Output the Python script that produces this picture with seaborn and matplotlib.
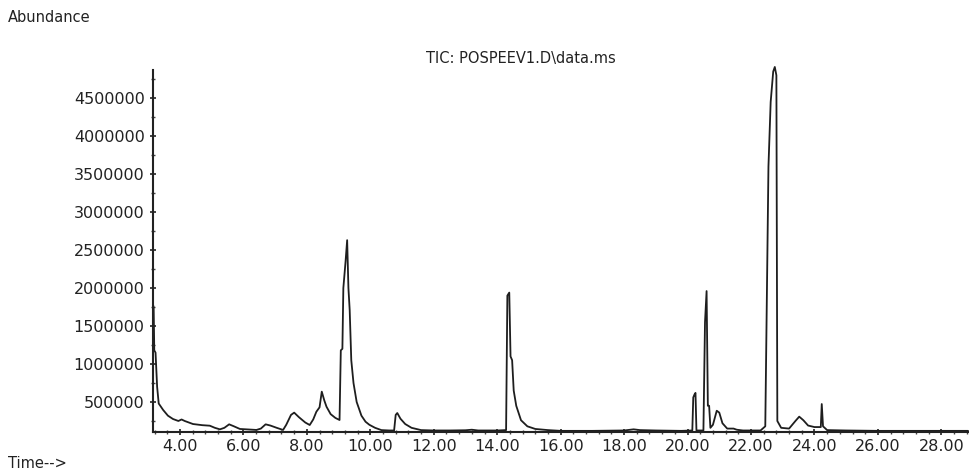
import matplotlib
matplotlib.use("Agg")
import matplotlib.pyplot as plt
import matplotlib.ticker as mticker
import seaborn as sns
import pandas as pd

# Retention time (min) and abundance
time_min = [
    3.15, 3.17, 3.19, 3.23, 3.28, 3.33, 3.47, 3.62, 3.78, 3.95, 4.05, 4.15, 4.41, 4.70, 4.94,
    5.10, 5.26, 5.40, 5.55, 5.70, 5.89, 6.10, 6.41, 6.55, 6.70, 6.85, 7.05, 7.25, 7.35, 7.50,
    7.60, 7.75, 7.95, 8.09, 8.20, 8.30, 8.40, 8.47, 8.55, 8.62, 8.75, 8.90, 9.03, 9.07, 9.12,
    9.15, 9.22, 9.27, 9.31, 9.35, 9.40, 9.47, 9.57, 9.72, 9.85, 9.97, 10.15, 10.35, 10.60, 10.75,
    10.80, 10.85, 10.95, 11.10, 11.30, 11.60, 12.00, 12.50, 13.00, 13.20, 13.40, 14.00, 14.28, 14.32, 14.38,
    14.42, 14.47, 14.52, 14.60, 14.75, 14.95, 15.20, 15.60, 16.00, 17.00, 18.00, 18.30, 18.50, 19.00, 19.80,
    20.15, 20.18, 20.22, 20.25, 20.28, 20.50, 20.55, 20.60, 20.64, 20.68, 20.72, 20.80, 20.92, 21.00, 21.10,
    21.25, 21.45, 21.55, 21.75, 22.30, 22.45, 22.50, 22.55, 22.62, 22.70, 22.75, 22.80, 22.83, 22.95, 23.20,
    23.40, 23.52, 23.65, 23.80, 24.00, 24.20, 24.23, 24.27, 24.40, 25.00, 26.00, 28.00, 28.84,
]
abundance = [
    1780000, 1750000, 1180000, 1150000, 700000, 480000, 395000, 320000, 276000, 250000, 270000, 250000, 210000, 195000, 188000,
    160000, 140000, 160000, 206000, 180000, 145000, 140000, 132000, 150000, 206000, 190000, 160000, 132000, 200000, 330000,
    360000, 300000, 230000, 197000, 270000, 372000, 430000, 636000, 520000, 437000, 340000, 290000, 263000, 1180000, 1200000,
    2000000, 2350000, 2630000, 2000000, 1710000, 1050000, 750000, 500000, 320000, 240000, 200000, 160000, 130000, 125000, 125000,
    330000, 355000, 280000, 210000, 160000, 130000, 125000, 125000, 128000, 135000, 125000, 125000, 130000, 1900000, 1940000,
    1100000, 1050000, 650000, 450000, 260000, 180000, 145000, 130000, 120000, 120000, 125000, 140000, 130000, 125000, 120000,
    125000, 560000, 600000, 620000, 125000, 125000, 1550000, 1960000, 450000, 450000, 160000, 200000, 385000, 360000, 220000,
    150000, 150000, 135000, 125000, 125000, 180000, 1880000, 3600000, 4450000, 4850000, 4910000, 4800000, 250000, 160000, 150000,
    250000, 307000, 260000, 190000, 170000, 170000, 473000, 180000, 130000, 125000, 120000, 120000, 120000,
]

x_ticks = [4, 6, 8, 10, 12, 14, 16, 18, 20, 22, 24, 26, 28]
y_ticks = [500000, 1000000, 1500000, 2000000, 2500000, 3000000, 3500000, 4000000, 4500000]

title_text = "TIC: POSPEEV1.D\\data.ms"
y_label = "Abundance"
x_label = "Time-->"

sns.set_style("white")
plt.rcParams["font.family"] = ["DejaVu Sans"]

W, H = 970, 474
fig = plt.figure(figsize=(W / 100, H / 100), dpi=100)
ax = fig.add_axes([153 / W, 1 - 432 / H, (968 - 153) / W, (432 - 70) / H])

df = pd.DataFrame({"t": time_min, "a": abundance})
sns.lineplot(data=df, x="t", y="a", sort=False, estimator=None, color="#1e1e1e", linewidth=1.3, ax=ax)
for ln in ax.get_lines():
    ln.set_clip_on(False)

ax.set_xlim(3.15, 28.84)
ax.set_ylim(105000, 4870000)
ax.set_xticks(x_ticks)
ax.set_yticks(y_ticks)
ax.xaxis.set_major_formatter(mticker.FuncFormatter(lambda v, p: f"{v:.2f}"))
ax.yaxis.set_major_formatter(mticker.FuncFormatter(lambda v, p: f"{v:.0f}"))
ax.xaxis.set_minor_locator(mticker.MultipleLocator(0.4))
ax.yaxis.set_minor_locator(mticker.MultipleLocator(250000))
ax.set_xlabel("")
ax.set_ylabel("")

for s in ["top", "right"]:
    ax.spines[s].set_visible(False)
for s in ["left", "bottom"]:
    ax.spines[s].set_color("#222222")
    ax.spines[s].set_linewidth(1.5)

ax.tick_params(axis="both", which="major", direction="inout", length=4, width=1.2,
               color="#222222", labelsize=11.5, labelcolor="#222222")
ax.tick_params(axis="x", which="major", pad=3)
ax.tick_params(axis="y", which="major", pad=4)
ax.tick_params(axis="both", which="minor", direction="inout", length=2.5, width=1.0, color="#444444")
ax.tick_params(axis="x", which="both", bottom=True)
ax.tick_params(axis="y", which="both", left=True)

fig.text(8 / W, 1 - 17 / H, y_label, ha="left", va="center", fontsize=10.5, color="#222222")
fig.text(8 / W, 1 - 463 / H, x_label, ha="left", va="center", fontsize=10.5, color="#222222")
fig.text(521 / W, 1 - 59 / H, title_text, ha="center", va="center", fontsize=10.5, color="#222222")

fig.savefig("out.png", dpi=100, facecolor="white")
